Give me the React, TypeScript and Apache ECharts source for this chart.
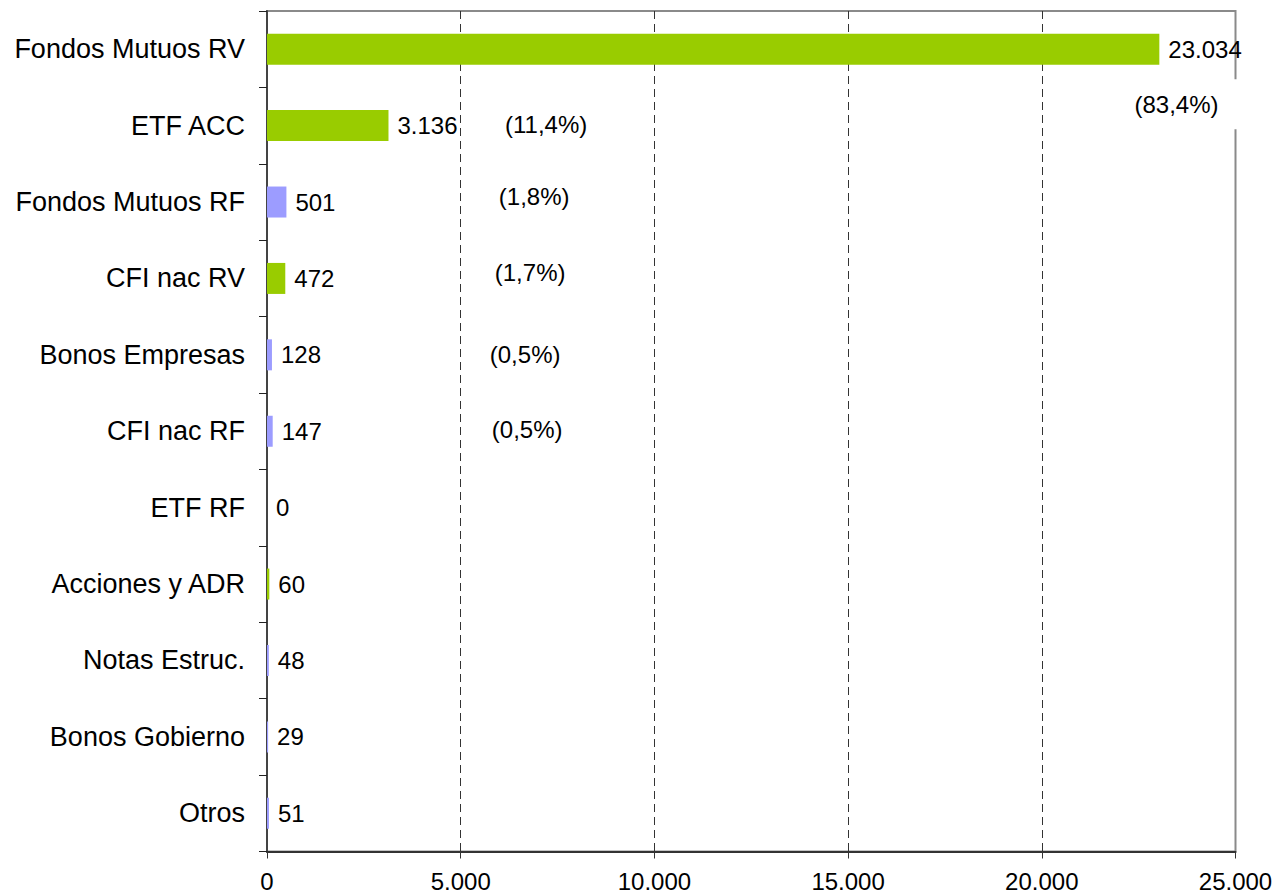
import React, { useEffect, useRef } from "react";
import * as echarts from "echarts";

const categories = [
  "Fondos Mutuos RV",
  "ETF ACC",
  "Fondos Mutuos RF",
  "CFI nac RV",
  "Bonos Empresas",
  "CFI nac RF",
  "ETF RF",
  "Acciones y ADR",
  "Notas Estruc.",
  "Bonos Gobierno",
  "Otros",
];
const values = [23034, 3136, 501, 472, 128, 147, 0, 60, 48, 29, 51];
const assetClass = ["RV", "RV", "RF", "RV", "RF", "RF", "RF", "RV", "RF", "RF", "RF"];
const pctLabels = ["(83,4%)", "(11,4%)", "(1,8%)", "(1,7%)", "(0,5%)", "(0,5%)"];
const pctAnchorX = [23476, 7206, 6896, 6792, 6663, 6715];
const xTicks = [0, 5000, 10000, 15000, 20000, 25000];

// layout-only: vertical pixel offsets of the share labels
const pctLabelDy = [55, -1, -6, -6, 0, -2];

const classColor: Record<string, string> = { RV: "#99CC00", RF: "#9C9CFF" };
const FONT = "'Liberation Sans', Arial, sans-serif";

const fmt = (v: number) =>
  String(Math.round(v)).replace(/\B(?=(\d{3})+(?!\d))/g, ".");

export default function App() {
  const ref = useRef<HTMLDivElement>(null);
  useEffect(() => {
    if (!ref.current) return;
    const chart = echarts.init(ref.current, undefined, { renderer: "svg" });
    chart.setOption({
      animation: false,
      backgroundColor: "#ffffff",
      grid: {
        left: 267,
        right: 42.5,
        top: 11,
        bottom: 44.5,
        outerBoundsMode: "none",
        containLabel: false,
        show: true,
        borderColor: "#8a8a8a",
        borderWidth: 2,
        backgroundColor: "transparent",
      },
      xAxis: {
        type: "value",
        min: xTicks[0],
        max: xTicks[xTicks.length - 1],
        interval: xTicks[1] - xTicks[0],
        axisLine: { show: true, lineStyle: { color: "#333", width: 2 } },
        axisTick: { show: true, length: 7, lineStyle: { color: "#333", width: 1 } },
        axisLabel: {
          margin: 20,
          fontSize: 24,
          lineHeight: 20,
          fontFamily: FONT,
          color: "#000",
          formatter: (v: number) => fmt(v),
        },
        splitLine: {
          show: true,
          showMinLine: false,
          showMaxLine: false,
          lineStyle: { color: "#333", width: 1, type: [8, 5] },
        },
      },
      yAxis: {
        type: "category",
        data: categories,
        inverse: true,
        axisLine: { show: true, lineStyle: { color: "#444", width: 2 } },
        axisTick: {
          show: true,
          interval: 0,
          length: 8,
          lineStyle: { color: "#222", width: 1 },
        },
        axisLabel: {
          margin: 22,
          fontSize: 27,
          fontFamily: FONT,
          color: "#000",
          interval: 0,
        },
        splitLine: { show: false },
      },
      series: [
        {
          type: "bar",
          barWidth: 31,
          silent: true,
          data: values.map((v, i) => ({
            value: v,
            itemStyle: { color: classColor[assetClass[i]] },
          })),
          label: {
            show: true,
            position: "right",
            distance: 9,
            fontSize: 24,
            fontFamily: FONT,
            color: "#000",
            formatter: (p: any) => fmt(p.value),
          },
        },
        {
          type: "scatter",
          symbolSize: 0,
          silent: true,
          z: 5,
          itemStyle: { opacity: 1 },
          data: pctLabels.map((t, i) => ({
            value: [pctAnchorX[i], categories[i]],
            name: t,
            label: {
              show: true,
              position: "inside",
              offset: [0, pctLabelDy[i]],
              formatter: t,
              fontSize: 24,
              fontFamily: FONT,
              color: "#000",
              ...(i === 0
                ? { backgroundColor: "#ffffff", padding: [8, 34, 18, 34] }
                : {}),
            },
          })),
        },
      ],
    });
    return () => chart.dispose();
  }, []);
  return (
    <div
      ref={ref}
      style={{ position: "fixed", left: 0, top: 0, width: 1278, height: 896 }}
    />
  );
}
